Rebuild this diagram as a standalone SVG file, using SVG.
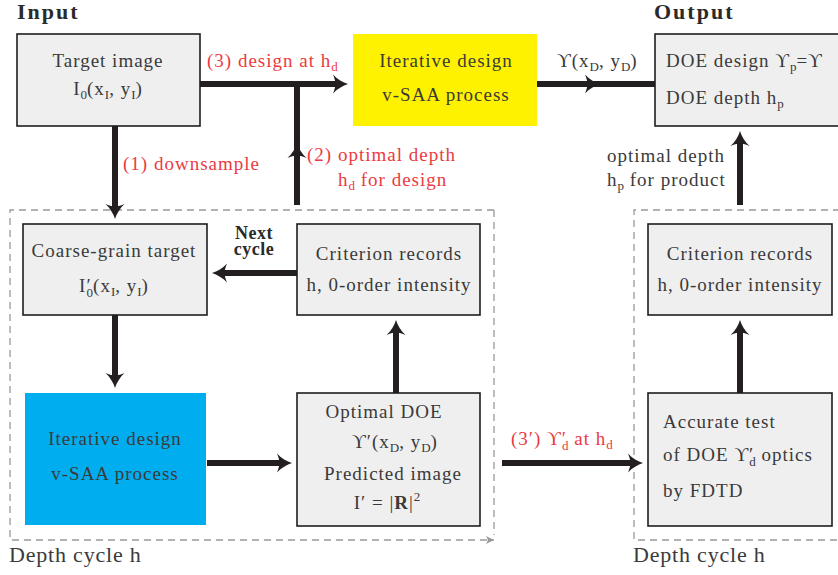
<svg xmlns="http://www.w3.org/2000/svg" width="838" height="575" viewBox="0 0 838 575">
<style>
text{font-family:"Liberation Serif","Times New Roman",serif;font-size:19px;letter-spacing:1px;fill:#3a3a3a}
.r{fill:#ec3a42}
.m{text-anchor:middle}
.s{font-size:13px;letter-spacing:0}
.h{font-weight:bold;font-size:22px;letter-spacing:2px;fill:#2a2a2a}
.nb{font-weight:bold;font-size:18px;letter-spacing:0.5px;fill:#2a2a2a}
.big{font-size:22px;letter-spacing:0.8px}
.box{fill:#efefef;stroke:#1e1e1e;stroke-width:1.6}
.c{fill:none;stroke:#231f20;stroke-width:6}
.ca{fill:none;stroke:#231f20;stroke-width:6;marker-end:url(#ah)}
.d{fill:none;stroke:#999;stroke-width:1.3;stroke-dasharray:7 5}
</style>
<defs>
<marker id="ah" viewBox="0 -10 20 20" markerUnits="userSpaceOnUse" markerWidth="20" markerHeight="20" refX="5" refY="0" orient="auto">
<path d="M15,0 C10,-1.5 4,-5 0,-9.5 C1.8,-5 2.5,-2 2.5,0 C2.5,2 1.8,5 0,9.5 C4,5 10,1.5 15,0 Z" fill="#231f20"/>
</marker>
<marker id="ga" viewBox="0 -5 10 10" markerUnits="userSpaceOnUse" markerWidth="10" markerHeight="10" refX="8" refY="0" orient="auto">
<path d="M8,0 L0,-4 L2,0 L0,4 Z" fill="#999"/>
</marker>
</defs>

<text class="h" x="17" y="19">Input</text>
<text class="h" x="654" y="19">Output</text>

<g id="cycle-left">
<path class="d" d="M494,210 L10,210 L10,540 L494,540" marker-end="url(#ga)"/>
<path class="d" d="M494,210 L494,535"/>
<text class="big" x="9" y="562">Depth cycle h</text>
</g>
<g id="cycle-right">
<path class="d" d="M840,210 L634,210 L634,540 L840,540"/>
<text class="big" x="633" y="562">Depth cycle h</text>
</g>

<g id="connectors">
<path class="ca" d="M200,84 L338,84"/>
<path class="c" d="M297,205 L297,81"/>
<path class="ca" d="M297,205 L297,153"/>
<path class="c" d="M537,84 L655,84"/>
<path class="ca" d="M537,84 L590,84"/>
<path class="ca" d="M740,205 L740,141"/>
<path class="ca" d="M115,126 L115,209"/>
<path class="ca" d="M297,273 L222,273"/>
<path class="ca" d="M115,315 L115,378"/>
<path class="ca" d="M207,463 L282,463"/>
<path class="ca" d="M396,393 L396,330"/>
<path class="ca" d="M502,463 L633,463"/>
<path class="ca" d="M740,393 L740,330"/>
</g>

<g id="labels">
<text class="r" x="207" y="67">(3) design at h<tspan class="s" dy="4">d</tspan></text>
<text x="557" y="67">ϒ(x<tspan class="s" dy="4">D</tspan><tspan dy="-4">, y</tspan><tspan class="s" dy="4">D</tspan><tspan dy="-4">)</tspan></text>
<text class="r" x="123" y="170">(1) downsample</text>
<text class="r" x="307" y="161">(2) optimal depth</text>
<text class="r" x="338" y="186">h<tspan class="s" dy="4">d</tspan><tspan dy="-4"> for design</tspan></text>
<text x="607" y="162">optimal depth</text>
<text x="607" y="186">h<tspan class="s" dy="4">p</tspan><tspan dy="-4"> for product</tspan></text>
<text class="nb m" x="254" y="239">Next</text>
<text class="nb m" x="254" y="255">cycle</text>
<text class="r" x="511" y="445">(3′) ϒ′<tspan class="s" dx="-5" dy="5">d</tspan><tspan dy="-5"> at h</tspan><tspan class="s" dy="4">d</tspan></text>
</g>

<g id="target">
<rect class="box" x="17" y="34" width="183" height="92"/>
<text class="m" x="108" y="67">Target image</text>
<text class="m" x="108" y="95">I<tspan class="s" dy="4">0</tspan><tspan dy="-4">(x</tspan><tspan class="s" dy="4">I</tspan><tspan dy="-4">, y</tspan><tspan class="s" dy="4">I</tspan><tspan dy="-4">)</tspan></text>
</g>
<g id="iter-yellow">
<rect x="353" y="34" width="184" height="92" fill="#fff200"/>
<text class="m" x="446" y="67">Iterative design</text>
<text class="m" x="446" y="101">v-SAA process</text>
</g>
<g id="output">
<rect class="box" x="655" y="34" width="190" height="92"/>
<text x="666" y="67">DOE design ϒ<tspan class="s" dy="4">p</tspan><tspan dy="-4">=ϒ</tspan></text>
<text x="666" y="104">DOE depth h<tspan class="s" dy="4">p</tspan></text>
</g>
<g id="coarse">
<rect class="box" x="23" y="224" width="184" height="91"/>
<text class="m" x="114" y="257">Coarse-grain target</text>
<text class="m" x="114" y="292">I′<tspan class="s" dx="-5" dy="5">0</tspan><tspan dy="-5">(x</tspan><tspan class="s" dy="4">I</tspan><tspan dy="-4">, y</tspan><tspan class="s" dy="4">I</tspan><tspan dy="-4">)</tspan></text>
</g>
<g id="criterion-left">
<rect class="box" x="297" y="224" width="183" height="91"/>
<text class="m" x="389" y="260">Criterion records</text>
<text class="m" x="389" y="291">h,  0-order intensity</text>
</g>
<g id="iter-blue">
<rect x="25" y="393" width="181" height="132" fill="#00aeef"/>
<text class="m" x="115" y="445">Iterative design</text>
<text class="m" x="115" y="480">v-SAA process</text>
</g>
<g id="optimal">
<rect class="box" x="297" y="393" width="183" height="133"/>
<text class="m" x="384" y="418">Optimal DOE</text>
<text class="m" x="395" y="448">ϒ′(x<tspan class="s" dy="4">D</tspan><tspan dy="-4">, y</tspan><tspan class="s" dy="4">D</tspan><tspan dy="-4">)</tspan></text>
<text class="m" x="393" y="480">Predicted image</text>
<text class="m" x="387" y="509">I′ = |<tspan font-weight="bold">R</tspan>|<tspan class="s" dy="-8">2</tspan></text>
</g>
<g id="criterion-right">
<rect class="box" x="648" y="224" width="184" height="91"/>
<text class="m" x="740" y="260">Criterion records</text>
<text class="m" x="740" y="291">h,  0-order intensity</text>
</g>
<g id="accurate">
<rect class="box" x="648" y="393" width="184" height="133"/>
<text x="663" y="428">Accurate test</text>
<text x="663" y="461">of DOE ϒ′<tspan class="s" dx="-5" dy="5">d</tspan><tspan dy="-5"> optics</tspan></text>
<text x="663" y="497">by FDTD</text>
</g>
</svg>
